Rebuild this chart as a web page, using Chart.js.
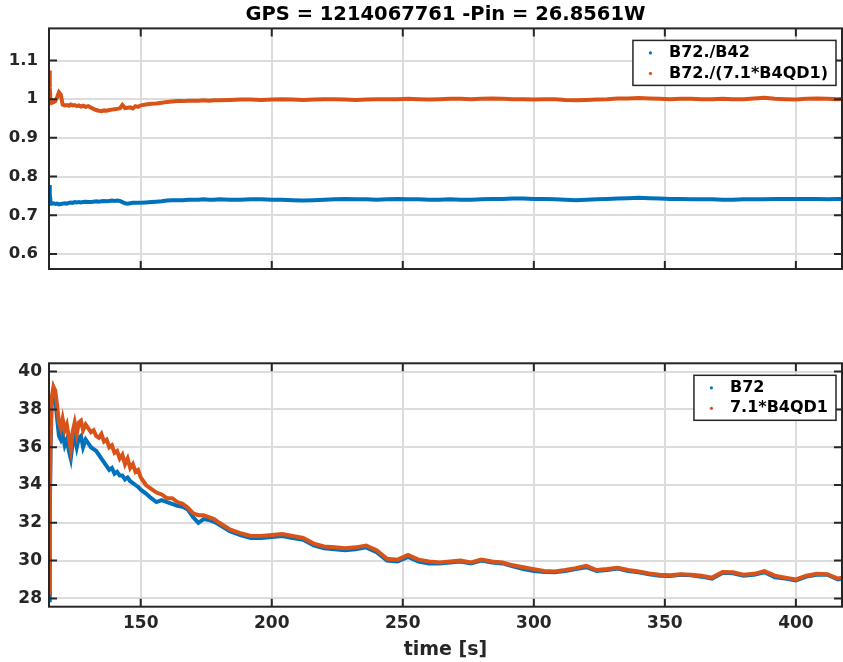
<!DOCTYPE html>
<html lang="en">
  <head>
    <meta charset="UTF-8" />
    <title>GPS 1214067761 power ratios</title>
    <script src="https://cdn.jsdelivr.net/npm/chart.js@4.4.1/dist/chart.umd.min.js"></script>
    <style>
      body {
        margin: 0;
        background: #fff;
      }
      #wrap {
        position: relative;
        width: 843px;
        height: 662px;
      }
      #topChart {
        position: absolute;
        left: 0;
        top: 0;
      }
      #bottomChart {
        position: absolute;
        left: 0;
        top: 340px;
      }
    </style>
  </head>
  <body>
    <div id="wrap">
      <canvas id="topChart" width="843" height="280"></canvas>
      <canvas id="bottomChart" width="843" height="322"></canvas>
    </div>
    <script>
      // time axis shared by both panels (s)
      const times = [
        115.0, 115.3, 115.6, 116.0, 116.7, 117.4, 118.1, 118.8, 119.5, 120.2,
        121.0, 121.8, 122.6, 123.3, 124.0, 124.8, 125.6, 126.4, 127.2, 128.0,
        129, 130, 131, 132, 133, 134, 135, 136, 137, 138, 139,
        140, 141, 142, 143, 144, 145, 146, 147, 148, 149, 150,
        152, 154, 156, 158, 160, 162, 164, 166, 168, 170, 172, 174, 176, 178, 180,
        184, 188, 192, 196, 200, 204, 208, 212, 216, 220, 224, 228, 232, 236, 240,
        244, 248, 252, 256, 260, 264, 268, 272, 276, 280, 284, 288, 292, 296, 300,
        304, 308, 312, 316, 320, 324, 328, 332, 336, 340, 344, 348, 352, 356, 360,
        364, 368, 372, 376, 380, 384, 388, 392, 396, 400, 404, 408, 412, 416, 418
      ]

      // top panel: B72./B42
      const ratioB42 = [
        0.778, 0.755, 0.735, 0.730, 0.731, 0.729, 0.730, 0.728, 0.729, 0.730,
        0.731, 0.730, 0.732, 0.733, 0.732, 0.734, 0.733, 0.734, 0.733, 0.734,
        0.735, 0.734, 0.734, 0.735, 0.736, 0.735, 0.736, 0.737, 0.736, 0.737, 0.738,
        0.737, 0.738, 0.737, 0.734, 0.731, 0.730, 0.731, 0.732, 0.732, 0.732, 0.732,
        0.733, 0.734, 0.735, 0.736, 0.738, 0.739, 0.739, 0.739, 0.740, 0.740, 0.740, 0.741, 0.740, 0.740, 0.741,
        0.740, 0.740, 0.741, 0.741, 0.740, 0.740, 0.739, 0.738, 0.739, 0.740, 0.741, 0.742, 0.741, 0.741, 0.740,
        0.741, 0.742, 0.741, 0.741, 0.740, 0.740, 0.741, 0.740, 0.740, 0.741, 0.742, 0.742, 0.743, 0.743, 0.742,
        0.742, 0.741, 0.740, 0.739, 0.740, 0.741, 0.742, 0.743, 0.744, 0.745, 0.744, 0.743, 0.742, 0.742, 0.741,
        0.741, 0.741, 0.740, 0.740, 0.741, 0.741, 0.741, 0.742, 0.742, 0.742, 0.742, 0.742, 0.741, 0.742, 0.742
      ]

      // top panel: B72./(7.1*B4QD1)
      const ratioB4QD1 = [
        1.074, 1.030, 0.995, 0.990, 0.992, 0.995, 1.005, 1.018, 1.012, 0.986,
        0.984, 0.985, 0.983, 0.986, 0.984, 0.985, 0.982, 0.984, 0.981, 0.983,
        0.980, 0.982, 0.978, 0.975, 0.972, 0.970, 0.969, 0.971, 0.970, 0.972, 0.973,
        0.974, 0.975, 0.976, 0.985, 0.977, 0.978, 0.979, 0.976, 0.982, 0.980, 0.984,
        0.986, 0.988, 0.989, 0.991, 0.993, 0.994, 0.995, 0.995, 0.996, 0.996, 0.996, 0.997, 0.996, 0.997, 0.997,
        0.998, 0.999, 0.999, 0.998, 0.999, 1.000, 0.999, 0.998, 0.999, 1.000, 1.000, 0.999, 0.998, 0.999, 1.000,
        1.000, 1.000, 1.001, 1.000, 0.999, 1.000, 1.001, 1.001, 1.000, 1.001, 1.002, 1.001, 1.000, 1.000, 0.999,
        1.000, 1.000, 0.998, 0.997, 0.998, 0.999, 1.000, 1.002, 1.002, 1.003, 1.002, 1.001, 1.000, 1.001, 1.001,
        1.000, 1.000, 1.001, 1.000, 1.000, 1.002, 1.004, 1.001, 1.000, 0.999, 1.001, 1.002, 1.001, 1.000, 1.001
      ]

      // bottom panel: B72
      const powerB72 = [
        27.9, 32.0, 36.0, 38.3, 39.0, 38.6, 37.5, 36.6, 36.4, 36.7,
        36.1, 36.4, 35.8, 35.4, 36.2, 36.6, 36.0, 36.5, 36.6, 36.0,
        36.4, 36.2, 36.0, 35.9, 35.8, 35.6, 35.4, 35.2, 35.0, 34.8, 34.9,
        34.6, 34.7, 34.5, 34.5, 34.3, 34.4, 34.2, 34.1, 34.0, 33.9, 33.75,
        33.55, 33.3, 33.1, 33.2, 33.1, 33.0, 32.9, 32.85, 32.7, 32.3, 32.0, 32.2, 32.15, 32.05, 31.9,
        31.55, 31.35, 31.2, 31.2, 31.25, 31.3, 31.2, 31.1, 30.8, 30.65, 30.6, 30.55, 30.6, 30.7, 30.45,
        30.0, 29.95, 30.2, 29.95, 29.85, 29.85, 29.9, 29.95, 29.85, 30.0, 29.9, 29.85, 29.7, 29.55, 29.45,
        29.4, 29.38, 29.45, 29.55, 29.65, 29.45, 29.5, 29.58, 29.45, 29.38, 29.28, 29.2, 29.18, 29.25, 29.22,
        29.15, 29.05, 29.35, 29.33, 29.2, 29.25, 29.38, 29.12, 29.05, 28.95, 29.15, 29.25, 29.25, 29.0, 29.05
      ]

      // bottom panel: 7.1*B4QD1
      const powerB4QD1 = [
        28.3, 33.0, 36.5, 38.6, 39.2, 39.0, 38.2, 37.3, 37.0, 37.5,
        36.9, 37.2, 36.5, 35.9, 36.8, 37.3, 36.7, 37.3, 37.4, 36.9,
        37.2, 37.0, 36.8, 36.9, 36.6, 36.5, 36.7, 36.3, 36.4, 36.0, 36.1,
        35.7, 35.8, 35.4, 35.6, 35.1, 35.4, 34.9, 35.1, 34.7, 34.8, 34.4,
        34.0, 33.8, 33.6, 33.5, 33.3, 33.3, 33.1, 33.0, 32.8, 32.5, 32.4, 32.4, 32.3, 32.2, 32.0,
        31.65, 31.45, 31.3, 31.3, 31.35, 31.4, 31.3, 31.2, 30.9, 30.75, 30.7, 30.65, 30.7, 30.8, 30.55,
        30.1, 30.05, 30.3, 30.05, 29.95, 29.9, 29.95, 30.0, 29.9, 30.05, 29.95, 29.9, 29.75, 29.65, 29.55,
        29.45, 29.42, 29.5, 29.6, 29.72, 29.5, 29.55, 29.62, 29.5, 29.42, 29.32, 29.25, 29.22, 29.28, 29.25,
        29.2, 29.1, 29.4, 29.38, 29.25, 29.3, 29.44, 29.2, 29.1, 29.0, 29.2, 29.3, 29.28, 29.05, 29.1
      ]

      const xTicks = [150, 200, 250, 300, 350, 400]
      const yTicksTop = [0.6, 0.7, 0.8, 0.9, 1, 1.1]
      const yTicksBottom = [28, 30, 32, 34, 36, 38, 40]

      const blue = '#0072BD'
      const orange = '#D95319'
      const axisColor = '#262626'
      const gridColor = '#dcdcdc'

      Chart.defaults.font.family = '"DejaVu Sans", sans-serif'
      Chart.defaults.font.weight = 'bold'
      Chart.defaults.color = axisColor

      const pairs = vals => times.map((t, i) => ({ x: t, y: vals[i] }))

      // matlab style box, inward ticks and boxed legend
      const matlabBox = {
        id: 'matlabBox',
        afterDraw(chart) {
          const { ctx, chartArea: a, scales } = chart
          const x = scales.x
          const y = scales.y
          ctx.save()
          ctx.strokeStyle = axisColor
          ctx.lineWidth = 2
          ctx.beginPath()
          x.ticks.forEach(t => {
            const px = x.getPixelForValue(t.value)
            ctx.moveTo(px, a.bottom)
            ctx.lineTo(px, a.bottom - 8)
            ctx.moveTo(px, a.top)
            ctx.lineTo(px, a.top + 8)
          })
          y.ticks.forEach(t => {
            const py = y.getPixelForValue(t.value)
            ctx.moveTo(a.left, py)
            ctx.lineTo(a.left + 8, py)
            ctx.moveTo(a.right, py)
            ctx.lineTo(a.right - 8, py)
          })
          ctx.stroke()
          ctx.strokeRect(a.left, a.top, a.right - a.left, a.bottom - a.top)

          const sets = chart.data.datasets
          ctx.font = 'bold 16px "DejaVu Sans"'
          const textW = Math.max(...sets.map(d => ctx.measureText(d.label).width))
          const w = 36 + textW + 8
          const h = 45
          const bx = a.right - 6 - w
          const by = a.top + 12
          ctx.fillStyle = '#fff'
          ctx.fillRect(bx, by, w, h)
          ctx.lineWidth = 1.5
          ctx.strokeRect(bx, by, w, h)
          ctx.textBaseline = 'middle'
          sets.forEach((d, i) => {
            const cy = by + 12.5 + i * 20.5
            ctx.fillStyle = d.borderColor
            ctx.beginPath()
            ctx.arc(bx + 17.5, cy, 1.6, 0, Math.PI * 2)
            ctx.fill()
            ctx.fillStyle = '#000'
            ctx.fillText(d.label, bx + 36, cy)
          })
          ctx.restore()
        }
      }

      const lineSet = (label, vals, color, order) => ({
        label: label,
        data: pairs(vals),
        borderColor: color,
        backgroundColor: color,
        borderWidth: 4,
        pointRadius: 0,
        tension: 0,
        clip: 0,
        order: order
      })

      const gridOpts = { color: gridColor, lineWidth: 2, drawTicks: false }

      // fixed axis width, no extra room for half labels at the ends
      const fixY = s => {
        s.width = 49
        s.paddingTop = 0
        s.paddingBottom = 0
      }

      new Chart(document.getElementById('topChart'), {
        type: 'line',
        data: {
          datasets: [
            lineSet('B72./B42', ratioB42, blue, 1),
            lineSet('B72./(7.1*B4QD1)', ratioB4QD1, orange, 0)
          ]
        },
        options: {
          responsive: false,
          animation: false,
          layout: { padding: { right: 1 } },
          plugins: {
            legend: { display: false },
            tooltip: { enabled: false },
            title: {
              display: true,
              fullSize: false,
              text: 'GPS = 1214067761 -Pin = 26.8561W',
              color: '#000',
              font: { size: 19.5, weight: 'bold' },
              padding: { top: 3, bottom: 2 }
            }
          },
          scales: {
            x: {
              type: 'linear',
              min: 115,
              max: 417.6,
              afterBuildTicks: s => {
                s.ticks = xTicks.map(v => ({ value: v }))
              },
              afterFit: s => {
                s.height = 11
                s.paddingLeft = 0
                s.paddingRight = 0
              },
              ticks: { display: false },
              grid: gridOpts,
              border: { display: false }
            },
            y: {
              min: 0.561,
              max: 1.183,
              afterBuildTicks: s => {
                s.ticks = yTicksTop.map(v => ({ value: v }))
              },
              afterFit: fixY,
              ticks: {
                padding: 11,
                font: { size: 16.5 },
                callback: v => String(v)
              },
              grid: gridOpts,
              border: { display: false }
            }
          }
        },
        plugins: [matlabBox]
      })

      new Chart(document.getElementById('bottomChart'), {
        type: 'line',
        data: {
          datasets: [
            lineSet('B72', powerB72, blue, 1),
            lineSet('7.1*B4QD1', powerB4QD1, orange, 0)
          ]
        },
        options: {
          responsive: false,
          animation: false,
          layout: { padding: { top: 23.3, right: 1 } },
          plugins: {
            legend: { display: false },
            tooltip: { enabled: false }
          },
          scales: {
            x: {
              type: 'linear',
              min: 115,
              max: 417.6,
              afterBuildTicks: s => {
                s.ticks = xTicks.map(v => ({ value: v }))
              },
              afterFit: s => {
                s.height = 55.3
                s.paddingLeft = 0
                s.paddingRight = 0
              },
              ticks: {
                padding: 7,
                font: { size: 17 },
                maxRotation: 0,
                callback: v => String(v)
              },
              title: {
                display: true,
                text: 'time [s]',
                font: { size: 19, weight: 'bold' },
                padding: { top: 0, bottom: 1 }
              },
              grid: gridOpts,
              border: { display: false }
            },
            y: {
              min: 27.56,
              max: 40.44,
              afterBuildTicks: s => {
                s.ticks = yTicksBottom.map(v => ({ value: v }))
              },
              afterFit: fixY,
              ticks: {
                padding: 7,
                font: { size: 17 },
                callback: v => String(v)
              },
              grid: gridOpts,
              border: { display: false }
            }
          }
        },
        plugins: [matlabBox]
      })
    </script>
  </body>
</html>
